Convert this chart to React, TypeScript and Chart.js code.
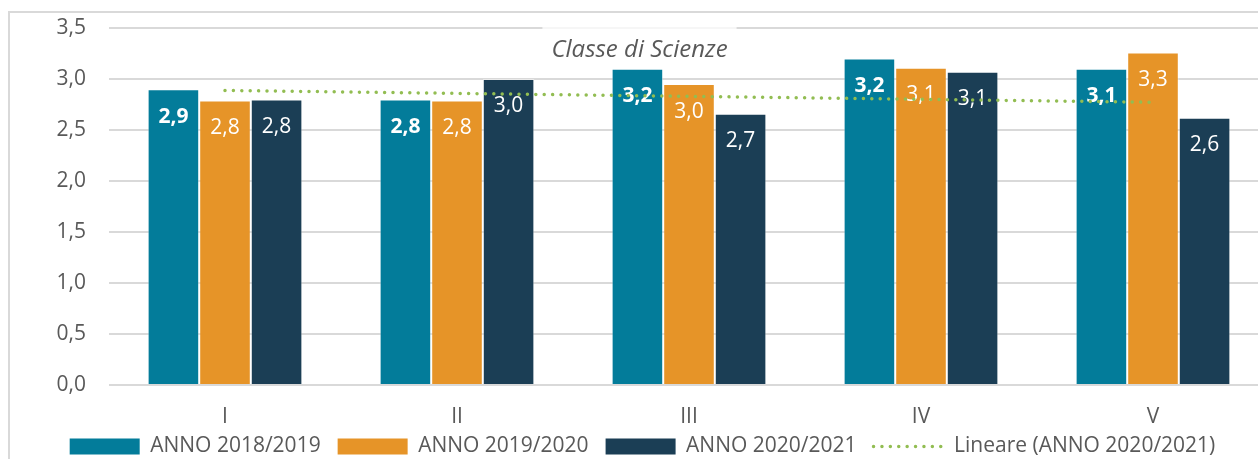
import React, { useEffect, useRef } from 'react';
import { Chart, registerables } from 'chart.js';

Chart.register(...registerables);

// ---- data ----
const categories = ['I', 'II', 'III', 'IV', 'V'];
const anno2018 = [2.9, 2.8, 3.1, 3.2, 3.1];
const anno2019 = [2.79, 2.79, 2.95, 3.11, 3.26];
const anno2020 = [2.8, 3.0, 2.66, 3.07, 2.62];
const labels2018 = ['2,9', '2,8', '3,2', '3,2', '3,1'];
const labels2019 = ['2,8', '2,8', '3,0', '3,1', '3,3'];
const labels2020 = ['2,8', '3,0', '2,7', '3,1', '2,6'];
const seriesNames = ['ANNO 2018/2019', 'ANNO 2019/2020', 'ANNO 2020/2021'];
const trendName = 'Lineare (ANNO 2020/2021)';
const titleText = 'Classe di Scienze';
const yMin = 0;
const yMax = 3.5;
const yStep = 0.5;

// ---- styles ----
const TEAL = '#037C9A';
const ORANGE = '#E69428';
const NAVY = '#1B3E55';
const GREEN = '#92BD52';
const TEXT = '#595959';
const GRID = '#D9D9D9';
const FONT = "'Open Sans', sans-serif";
const DOTS = [0.001, 8.4];

// linear regression trend line (Excel "Lineare")
function linearTrend(values: number[]): number[] {
  const n = values.length;
  const xs = values.map((_, i) => i + 1);
  const mx = xs.reduce((a, b) => a + b, 0) / n;
  const my = values.reduce((a, b) => a + b, 0) / n;
  let num = 0;
  let den = 0;
  xs.forEach((x, i) => {
    num += (x - mx) * (values[i] - my);
    den += (x - mx) * (x - mx);
  });
  const slope = num / den;
  const intercept = my - slope * mx;
  return xs.map((x) => intercept + slope * x);
}

const barLabelPlugin = {
  id: 'barLabels',
  afterDatasetDraw(chart: any, args: any) {
    const meta = args.meta;
    if (meta.type !== 'bar') return;
    const ds = chart.data.datasets[args.index];
    const ctx = chart.ctx;
    ctx.save();
    ctx.fillStyle = '#FFFFFF';
    ctx.textAlign = 'center';
    ctx.textBaseline = 'middle';
    ctx.font = `${ds.labelBold ? 'bold ' : ''}21px ${FONT}`;
    meta.data.forEach((el: any, i: number) => {
      ctx.fillText(ds.valueLabels[i], el.x, el.y + 27.5);
    });
    ctx.restore();
  },
};

const categoryLabelPlugin = {
  id: 'categoryLabels',
  afterDraw(chart: any) {
    const ctx = chart.ctx;
    const xs = chart.scales.x;
    ctx.save();
    ctx.fillStyle = TEXT;
    ctx.textAlign = 'center';
    ctx.textBaseline = 'middle';
    ctx.font = `21px ${FONT}`;
    chart.data.labels.forEach((lab: string, i: number) => {
      ctx.fillText(lab, xs.getPixelForValue(i), chart.chartArea.bottom + 32);
    });
    ctx.restore();
  },
};

const titlePlugin = {
  id: 'innerTitle',
  beforeDatasetsDraw(chart: any) {
    const ctx = chart.ctx;
    const cx = (chart.legend.left + chart.legend.right) / 2 - 3;
    const top = chart.chartArea.top;
    ctx.save();
    ctx.font = `italic 24px ${FONT}`;
    const w = ctx.measureText(titleText).width;
    ctx.fillStyle = 'rgba(255,255,255,0.75)';
    ctx.fillRect(cx - w / 2 - 9, top - 4, w + 18, 42);
    ctx.fillStyle = TEXT;
    ctx.textAlign = 'center';
    ctx.textBaseline = 'alphabetic';
    ctx.fillText(titleText, cx, top + 29);
    ctx.restore();
  },
};

export default function App() {
  const ref = useRef<HTMLCanvasElement | null>(null);

  useEffect(() => {
    if (!ref.current) return;
    const chart = new Chart(ref.current, {
      type: 'bar',
      data: {
        labels: categories,
        datasets: [
          {
            label: seriesNames[0],
            data: anno2018,
            backgroundColor: TEAL,
            borderColor: 'rgba(255,255,255,0.45)',
            borderWidth: 1,
            valueLabels: labels2018,
            labelBold: true,
            order: 1,
          } as any,
          {
            label: seriesNames[1],
            data: anno2019,
            backgroundColor: ORANGE,
            borderColor: 'rgba(255,255,255,0.45)',
            borderWidth: 1,
            valueLabels: labels2019,
            labelBold: false,
            order: 1,
          } as any,
          {
            label: seriesNames[2],
            data: anno2020,
            backgroundColor: NAVY,
            borderColor: 'rgba(255,255,255,0.45)',
            borderWidth: 1,
            valueLabels: labels2020,
            labelBold: false,
            order: 1,
          } as any,
          {
            type: 'line',
            label: trendName,
            data: linearTrend(anno2020),
            borderColor: GREEN,
            backgroundColor: GREEN,
            borderWidth: 3.5,
            borderDash: DOTS,
            borderCapStyle: 'round',
            pointRadius: 0,
            fill: false,
            order: 0,
          } as any,
        ],
      },
      options: {
        responsive: false,
        animation: false,
        devicePixelRatio: 1,
        font: { family: FONT },
        layout: { padding: { left: 16, right: 31, top: 28, bottom: 0 } },
        datasets: {
          bar: { categoryPercentage: 0.667, barPercentage: 1.0 },
        },
        scales: {
          x: {
            grid: { display: false, drawTicks: false },
            border: { display: false },
            ticks: { display: false },
            afterFit: (s: any) => {
              s.height = 34;
            },
          },
          y: {
            min: yMin,
            max: yMax,
            afterFit: (s: any) => {
              s.width = 93;
              s.paddingTop = 0;
              s.paddingBottom = 0;
            },
            grid: { color: GRID, lineWidth: 2, drawTicks: false },
            border: { display: false },
            ticks: {
              stepSize: yStep,
              padding: 23,
              color: TEXT,
              font: { family: FONT, size: 21 },
              callback: (v: any) => Number(v).toFixed(1).replace('.', ','),
            },
          },
        },
        plugins: {
          tooltip: { enabled: false },
          title: { display: false },
          legend: {
            display: true,
            position: 'bottom',
            labels: {
              color: TEXT,
              font: { family: FONT, size: 21 },
              usePointStyle: true,
              pointStyleWidth: 70,
              boxHeight: 16,
              padding: 17,
              generateLabels: (c: any) =>
                c.data.datasets.map((ds: any, i: number) => {
                  const isLine = ds.type === 'line';
                  return {
                    text: ds.label,
                    fillStyle: isLine ? 'rgba(0,0,0,0)' : ds.backgroundColor,
                    strokeStyle: isLine ? ds.borderColor : ds.backgroundColor,
                    lineWidth: isLine ? 3.5 : 0,
                    lineDash: isLine ? DOTS : [],
                    lineCap: 'round',
                    pointStyle: isLine ? 'line' : 'rect',
                    fontColor: TEXT,
                    hidden: false,
                    datasetIndex: i,
                  };
                }),
            },
          },
        },
      } as any,
      plugins: [barLabelPlugin, titlePlugin, categoryLabelPlugin],
    });
    return () => chart.destroy();
  }, []);

  return (
    <div
      style={{
        position: 'fixed',
        left: 0,
        top: 0,
        width: 1258,
        height: 459,
        overflow: 'hidden',
        background: '#FFFFFF',
      }}
    >
      <div
        style={{
          position: 'absolute',
          left: 8,
          top: 11,
          width: 2000,
          height: 2000,
          borderLeft: `2px solid ${GRID}`,
          borderTop: `2px solid ${GRID}`,
        }}
      />
      <canvas
        ref={ref}
        width={1300}
        height={467}
        style={{ position: 'absolute', left: 0, top: 0, width: 1300, height: 467, display: 'block' }}
      />
    </div>
  );
}
